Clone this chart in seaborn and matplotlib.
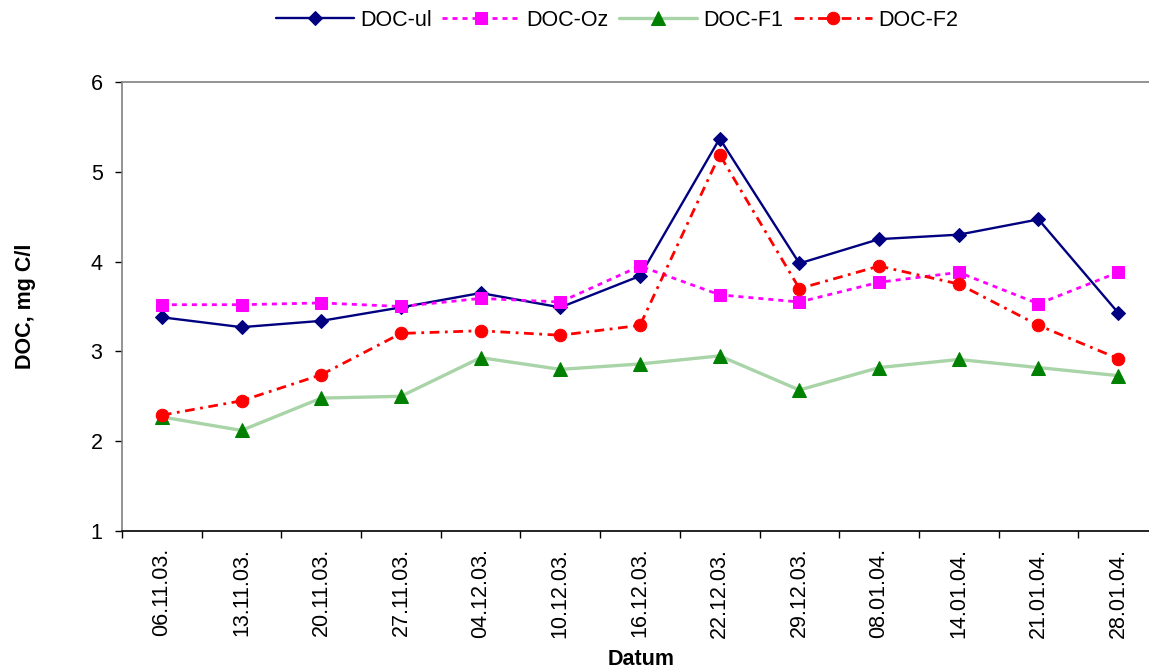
import matplotlib
matplotlib.use("Agg")
import matplotlib.pyplot as plt
import seaborn as sns
import pandas as pd

dates = ["06.11.03.", "13.11.03.", "20.11.03.", "27.11.03.", "04.12.03.", "10.12.03.",
         "16.12.03.", "22.12.03.", "29.12.03.", "08.01.04.", "14.01.04.", "21.01.04.", "28.01.04."]
doc_ul = [3.38, 3.27, 3.34, 3.49, 3.65, 3.49, 3.84, 5.37, 3.98, 4.25, 4.30, 4.47, 3.43]
doc_oz = [3.52, 3.52, 3.54, 3.50, 3.59, 3.55, 3.95, 3.63, 3.55, 3.77, 3.88, 3.53, 3.88]
doc_f1 = [2.27, 2.12, 2.48, 2.50, 2.93, 2.80, 2.86, 2.95, 2.57, 2.82, 2.91, 2.82, 2.73]
doc_f2 = [2.29, 2.45, 2.74, 3.20, 3.23, 3.18, 3.29, 5.19, 3.70, 3.95, 3.75, 3.29, 2.92]
series_names = ["DOC-ul", "DOC-Oz", "DOC-F1", "DOC-F2"]
y_ticks = [1, 2, 3, 4, 5, 6]

sns.set_style("white")
plt.rcParams["font.family"] = ["Liberation Sans", "DejaVu Sans"]
plt.rcParams["text.color"] = "black"
plt.rcParams["axes.labelcolor"] = "black"
plt.rcParams["xtick.color"] = "black"
plt.rcParams["ytick.color"] = "black"

fig = plt.figure(figsize=(11.49, 6.71), dpi=100)
ax = fig.add_axes([122 / 1149, 1 - 531 / 671, 1036 / 1149, 449 / 671])

pos = list(range(len(dates)))
styles = {
    "DOC-ul": dict(color="#000080", marker="D", markersize=7.5, markerfacecolor="#000080",
                   markeredgecolor="#000080", linestyle="-", linewidth=1.7),
    "DOC-Oz": dict(color="#FF00FF", marker="s", markersize=8.5, markerfacecolor="#FF00FF",
                   markeredgecolor="#FF00FF", linestyle=(0, (1.8, 1.8)), linewidth=2.0),
    "DOC-F1": dict(color="#A8D4A8", marker="^", markersize=10, markerfacecolor="#008000",
                   markeredgecolor="#008000", linestyle="-", linewidth=2.4),
    "DOC-F2": dict(color="#FF0000", marker="o", markersize=9, markerfacecolor="#FF0000",
                   markeredgecolor="#FF0000", linestyle=(0, (3.5, 2.0, 1.0, 2.0)), linewidth=2.0),
}
values = {"DOC-ul": doc_ul, "DOC-Oz": doc_oz, "DOC-F1": doc_f1, "DOC-F2": doc_f2}

for name in series_names:
    df = pd.DataFrame({"x": pos, "y": values[name]})
    sns.lineplot(data=df, x="x", y="y", ax=ax, label=name, sort=False, **styles[name])

ax.set_xlim(-0.5, len(dates) - 0.5)
ax.set_ylim(1, 6)
ax.set_yticks(y_ticks)
ax.set_yticklabels([str(v) for v in y_ticks], fontsize=15.5)

# category boundaries as major ticks, labels at centres as minor ticks
ax.set_xticks([i - 0.5 for i in range(len(dates) + 1)])
ax.set_xticklabels([""] * (len(dates) + 1))
ax.set_xticks(pos, minor=True)
ax.set_xticklabels(dates, minor=True, rotation=90, fontsize=15.5)
ax.tick_params(axis="x", which="major", direction="out", length=5, width=1, color="black", bottom=True)
ax.tick_params(axis="x", which="minor", length=0, pad=12, bottom=True, labelcolor="black")
ax.tick_params(axis="y", direction="out", length=5, width=1, color="black", pad=9, left=True,
               labelcolor="black")

for s in ["left", "top", "right"]:
    ax.spines[s].set_color("#808080")
    ax.spines[s].set_linewidth(1.2)
ax.spines["bottom"].set_color("black")
ax.spines["bottom"].set_linewidth(1.2)

ax.set_xlabel("Datum", fontsize=15.5, fontweight="bold", color="black")
ax.set_ylabel("DOC, mg C/l", fontsize=15.5, fontweight="bold", color="black")
ax.xaxis.set_label_coords(0.501, -0.263)
ax.yaxis.set_label_coords(-0.083, 0.5)

handles, labels = ax.get_legend_handles_labels()
ax.get_legend().remove()
fig.legend(handles, labels, loc="center", bbox_to_anchor=(0.537, 1 - 20 / 671), ncol=4,
           frameon=False, fontsize=15.5, handlelength=3.6, handletextpad=0.3, columnspacing=0.5,
           labelcolor="black")

fig.savefig("out.png", dpi=100)
